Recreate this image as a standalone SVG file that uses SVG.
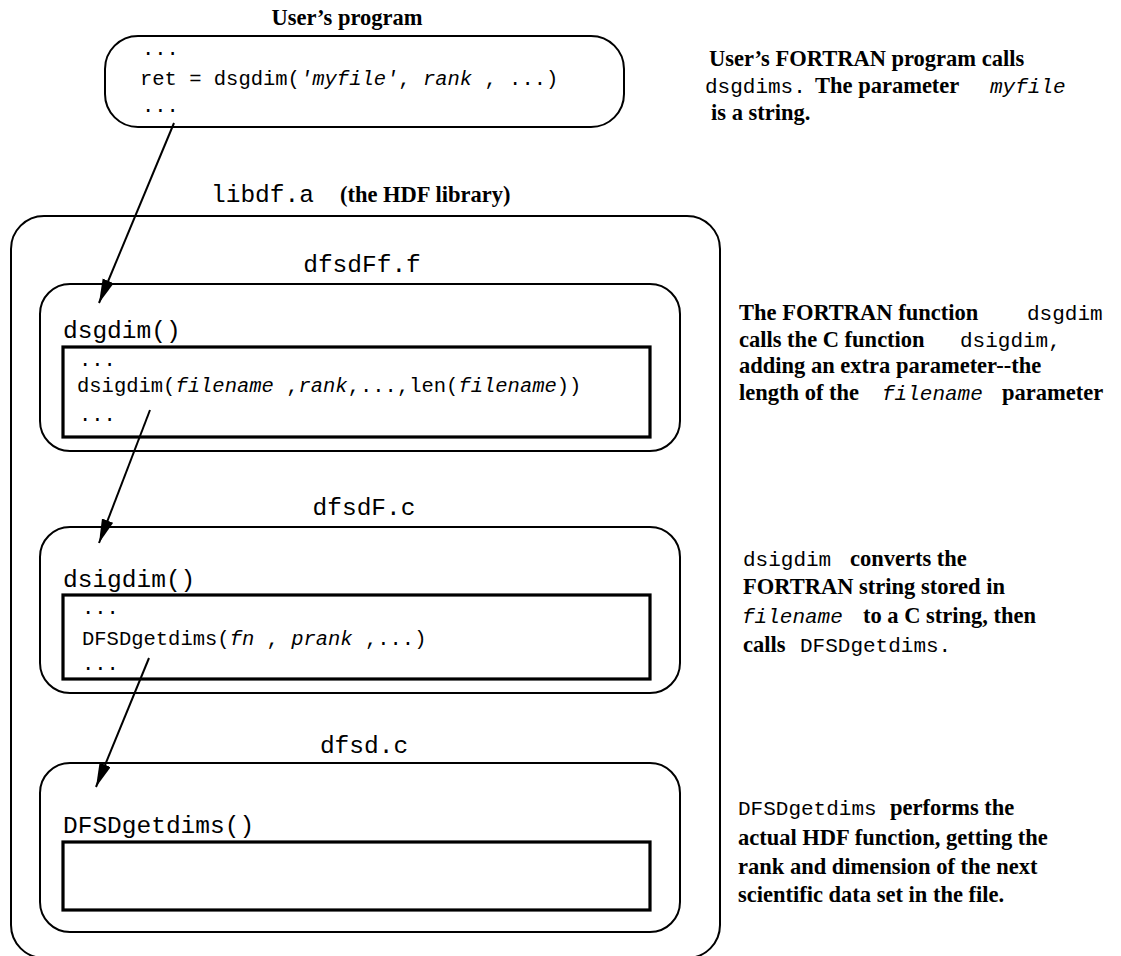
<svg xmlns="http://www.w3.org/2000/svg" width="1121" height="956" viewBox="0 0 1121 956">
<style>
.rb{fill:none;stroke:#000;stroke-width:2}
.ir{fill:none;stroke:#000;stroke-width:3.2}
.mono{font-family:"Liberation Mono","DejaVu Sans Mono",monospace;font-size:20.5px;fill:#000}
.hd{font-family:"Liberation Mono","DejaVu Sans Mono",monospace;font-size:24.5px;fill:#000}
.ser{font-family:"Liberation Serif","DejaVu Serif",serif;font-size:22.5px;font-weight:bold;fill:#000}
.rm{font-family:"Liberation Mono","DejaVu Sans Mono",monospace;font-size:21px;fill:#000}
.it{font-style:italic}
.conn{fill:none;stroke:#000;stroke-width:2}
</style>
<defs>
<marker id="ah" markerUnits="userSpaceOnUse" markerWidth="26" markerHeight="14" refX="24" refY="6" orient="auto">
<path d="M0,0 L24,6 L0,12 Z" fill="#000"/>
</marker>
</defs>
<rect width="1121" height="956" fill="#fff"/>

<g id="user-program">
<text class="ser" x="347" y="25" text-anchor="middle">User’s program</text>
<rect class="rb" x="105" y="36" width="519" height="91" rx="33" ry="33"/>
<text class="mono" x="142" y="55">...</text>
<text class="mono" x="140" y="85">ret = dsgdim(<tspan class="it">'myfile'</tspan>, <tspan class="it">rank</tspan> , ...)</text>
<text class="mono" x="142" y="112">...</text>
</g>

<g id="note-user">
<text class="ser" x="709" y="66">User’s FORTRAN program calls</text>
<text class="rm" x="705" y="93">dsgdims.</text>
<text class="ser" x="815" y="93">The parameter</text>
<text class="rm it" x="990" y="93">myfile</text>
<text class="ser" x="711" y="120">is a string.</text>
</g>

<g id="libdf">
<text class="hd" x="211" y="202">libdf.a</text>
<text class="ser" x="340" y="202">(the HDF library)</text>
<rect class="rb" x="11" y="216" width="709" height="742" rx="33" ry="33"/>
</g>

<g id="dfsdFf">
<text class="hd" x="362" y="272" text-anchor="middle">dfsdFf.f</text>
<rect class="rb" x="40" y="284" width="640" height="167" rx="30" ry="30"/>
<text class="hd" x="63" y="338">dsgdim()</text>
<rect class="ir" x="63" y="347" width="587" height="90"/>
<text class="mono" x="79" y="366">...</text>
<text class="mono" x="77" y="392">dsigdim(<tspan class="it">filename</tspan> ,<tspan class="it">rank</tspan>,...,len(<tspan class="it">filename</tspan>))</text>
<text class="mono" x="79" y="421">...</text>
</g>

<g id="note-dsgdim">
<text class="ser" x="739" y="320">The FORTRAN function</text>
<text class="rm" x="1027" y="320">dsgdim</text>
<text class="ser" x="739" y="347">calls the C function</text>
<text class="rm" x="960" y="347">dsigdim,</text>
<text class="ser" x="739" y="373">adding an extra parameter--the</text>
<text class="ser" x="739" y="400">length of the</text>
<text class="rm it" x="882" y="400">filename</text>
<text class="ser" x="1002" y="400">parameter</text>
</g>

<g id="dfsdF">
<text class="hd" x="364" y="515" text-anchor="middle">dfsdF.c</text>
<rect class="rb" x="40" y="527" width="640" height="166" rx="30" ry="30"/>
<text class="hd" x="63" y="587">dsigdim()</text>
<rect class="ir" x="63" y="595" width="587" height="84"/>
<text class="mono" x="82" y="614">...</text>
<text class="mono" x="82" y="645">DFSDgetdims(<tspan class="it">fn</tspan> , <tspan class="it">prank</tspan> ,...)</text>
<text class="mono" x="82" y="670">...</text>
</g>

<g id="note-dsigdim">
<text class="rm" x="743" y="566">dsigdim</text>
<text class="ser" x="850" y="566">converts the</text>
<text class="ser" x="743" y="594">FORTRAN string stored in</text>
<text class="rm it" x="742" y="623">filename</text>
<text class="ser" x="863" y="623">to a C string, then</text>
<text class="ser" x="743" y="652">calls</text>
<text class="rm" x="800" y="652">DFSDgetdims.</text>
</g>

<g id="dfsd">
<text class="hd" x="364" y="753" text-anchor="middle">dfsd.c</text>
<rect class="rb" x="40" y="763" width="640" height="169" rx="30" ry="30"/>
<text class="hd" x="63" y="833">DFSDgetdims()</text>
<rect class="ir" x="63" y="842" width="587" height="68"/>
</g>

<g id="note-DFSDgetdims">
<text class="rm" x="738" y="815">DFSDgetdims</text>
<text class="ser" x="890" y="815">performs the</text>
<text class="ser" x="738" y="845">actual HDF function, getting the</text>
<text class="ser" x="738" y="874">rank and dimension of the next</text>
<text class="ser" x="738" y="902">scientific data set in the file.</text>
</g>

<g id="connectors">
<line class="conn" x1="174" y1="123" x2="99" y2="303" marker-end="url(#ah)"/>
<line class="conn" x1="150" y1="410" x2="99" y2="543" marker-end="url(#ah)"/>
<line class="conn" x1="149" y1="658" x2="96" y2="787" marker-end="url(#ah)"/>
</g>
</svg>
